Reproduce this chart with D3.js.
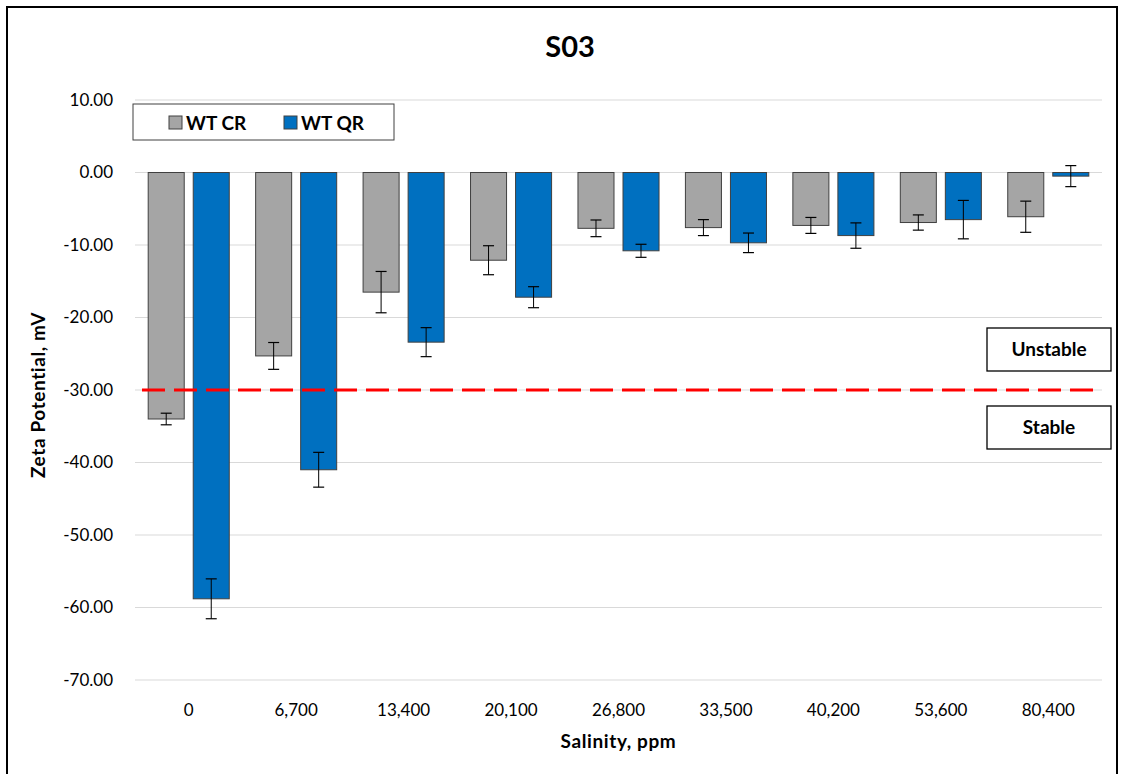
<!DOCTYPE html>
<html>
<head>
<meta charset="utf-8">
<script src="https://cdn.jsdelivr.net/npm/d3@7"></script>
<style>
  body { margin: 0; background: #fff; }
  svg { display: block; font-family: Lato, 'Open Sans', sans-serif; }
</style>
</head>
<body>
<svg id="chart" width="1125" height="774"></svg>
<script>
const categories = ['0', '6,700', '13,400', '20,100', '26,800', '33,500', '40,200', '53,600', '80,400']
const seriesNames = ['WT CR', 'WT QR']
const crValues = [-34.0, -25.3, -16.5, -12.1, -7.7, -7.6, -7.3, -6.9, -6.1]
const qrValues = [-58.8, -41.0, -23.4, -17.2, -10.8, -9.7, -8.7, -6.5, -0.5]
const crErr = [0.8, 1.85, 2.85, 2.0, 1.15, 1.1, 1.1, 1.05, 2.15]
const qrErr = [2.75, 2.4, 2.0, 1.45, 0.9, 1.35, 1.75, 2.65, 1.45]
const yTicks = [10, 0, -10, -20, -30, -40, -50, -60, -70]
const stableLine = -30

const colors = { 'WT CR': '#A5A5A5', 'WT QR': '#0070C0' }

const svg = d3.select('#chart')

// outer frame
svg.append('rect')
  .attr('x', 7).attr('y', 7)
  .attr('width', 1110).attr('height', 790)
  .attr('fill', 'none').attr('stroke', '#000').attr('stroke-width', 2)

const plotLeft = 135, plotRight = 1102, plotTop = 100, plotBottom = 680

const x0 = d3.scaleBand().domain(categories).range([plotLeft, plotRight]).padding(0)
const x1 = d3.scaleBand().domain(seriesNames).range([0, x0.bandwidth()])
  .paddingInner(0.2).paddingOuter(0.293)
const y = d3.scaleLinear().domain([10, -70]).range([plotTop, plotBottom])

// gridlines
svg.append('g').selectAll('line')
  .data(yTicks)
  .join('line')
  .attr('x1', plotLeft).attr('x2', plotRight)
  .attr('y1', d => y(d)).attr('y2', d => y(d))
  .attr('stroke', '#D9D9D9').attr('stroke-width', 1)

// y axis labels
const yAxis = d3.axisLeft(y).tickValues(yTicks).tickFormat(d3.format('.2f')).tickSize(0).tickPadding(0)
svg.append('g')
  .attr('transform', `translate(113,0)`)
  .call(yAxis)
  .call(g => g.select('.domain').remove())
  .selectAll('text')
  .attr('font-size', 17).attr('fill', '#000')
  .attr('font-family', 'Lato, sans-serif')
  .text(d => d3.format('.2f')(d).replace('−', '-'))

// x axis labels
const xAxis = d3.axisBottom(x0).tickSize(0).tickPadding(0)
svg.append('g')
  .attr('transform', `translate(0,704)`)
  .call(xAxis)
  .call(g => g.select('.domain').remove())
  .selectAll('text')
  .attr('font-size', 17).attr('fill', '#000')
  .attr('font-family', 'Lato, sans-serif')

const rows = categories.map((c, i) => ({
  cat: c,
  bars: [
    { name: 'WT CR', value: crValues[i], err: crErr[i] },
    { name: 'WT QR', value: qrValues[i], err: qrErr[i] }
  ]
}))

const groups = svg.append('g').selectAll('g')
  .data(rows)
  .join('g')
  .attr('transform', d => `translate(${x0(d.cat)},0)`)

groups.selectAll('rect')
  .data(d => d.bars)
  .join('rect')
  .attr('x', d => x1(d.name))
  .attr('width', x1.bandwidth())
  .attr('y', d => y(Math.max(0, d.value)))
  .attr('height', d => Math.abs(y(d.value) - y(0)))
  .attr('fill', d => colors[d.name])
  .attr('stroke', '#404040').attr('stroke-width', 1)

// error bars
const cap = 5.5
groups.each((data, idx, nodes) => {
  const g = d3.select(nodes[idx])
  data.bars.forEach(b => {
    const cx = x1(b.name) + x1.bandwidth() / 2
    const y1 = y(b.value + b.err), y2 = y(b.value - b.err)
    g.append('line').attr('x1', cx).attr('x2', cx).attr('y1', y1).attr('y2', y2)
      .attr('stroke', '#000').attr('stroke-width', 1)
    ;[y1, y2].forEach(yy => {
      g.append('line').attr('x1', cx - cap).attr('x2', cx + cap).attr('y1', yy).attr('y2', yy)
        .attr('stroke', '#000').attr('stroke-width', 1.2)
    })
  })
})

// stability threshold
svg.append('line')
  .attr('x1', 142).attr('x2', plotRight)
  .attr('y1', y(stableLine)).attr('y2', y(stableLine))
  .attr('stroke', '#FF0000').attr('stroke-width', 3)
  .attr('stroke-dasharray', '23,9')

// Unstable / Stable boxes
const notes = [{ t: 'Unstable', y: 328 }, { t: 'Stable', y: 406 }]
const ng = svg.append('g').selectAll('g').data(notes).join('g')
ng.append('rect')
  .attr('x', 987).attr('y', d => d.y).attr('width', 124).attr('height', 43)
  .attr('fill', '#fff').attr('stroke', '#000').attr('stroke-width', 1.3)
ng.append('text')
  .attr('x', 1049).attr('y', d => d.y + 28)
  .attr('text-anchor', 'middle').attr('font-size', 19).attr('font-weight', 'bold')
  .text(d => d.t)

// legend
const lg = svg.append('g')
lg.append('rect')
  .attr('x', 133).attr('y', 104).attr('width', 261).attr('height', 36)
  .attr('fill', '#fff').attr('stroke', '#404040').attr('stroke-width', 1)
const legendX = [169, 284]
const li = lg.selectAll('g').data(seriesNames).join('g')
  .attr('transform', (d, i) => `translate(${legendX[i]},116)`)
li.append('rect')
  .attr('width', 13).attr('height', 13)
  .attr('fill', d => colors[d]).attr('stroke', '#404040').attr('stroke-width', 1)
li.append('text')
  .attr('x', 17).attr('y', 14)
  .attr('font-size', 19).attr('font-weight', 'bold')
  .text(d => d)

// title
svg.append('text')
  .attr('x', 570).attr('y', 57)
  .attr('text-anchor', 'middle').attr('font-size', 29).attr('font-weight', 'bold')
  .text('S03')

// axis titles
svg.append('text')
  .attr('x', (plotLeft + plotRight) / 2).attr('y', 748)
  .attr('text-anchor', 'middle').attr('font-size', 19).attr('font-weight', 'bold')
  .attr('letter-spacing', 0.6)
  .text('Salinity, ppm')

svg.append('text')
  .attr('transform', `translate(45,395) rotate(-90)`)
  .attr('text-anchor', 'middle').attr('font-size', 19).attr('font-weight', 'bold')
  .attr('letter-spacing', 0.6)
  .text('Zeta Potential, mV')
</script>
</body>
</html>
